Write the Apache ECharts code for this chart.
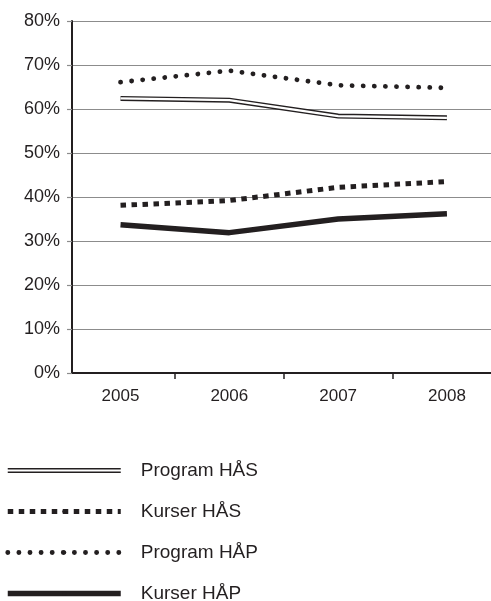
<!DOCTYPE html>
<html>
<head>
<meta charset="utf-8">
<script src="https://cdn.jsdelivr.net/npm/echarts@6/dist/echarts.min.js"></script>
<style>
  html, body { margin: 0; padding: 0; background: #fff; }
  #main { width: 491px; height: 601px; }
</style>
</head>
<body>
<div id="main"></div>
<script>
/* andel per år */
var years = ['2005', '2006', '2007', '2008'];
var programHAS = [62.4, 62.0, 58.4, 58.0];
var kurserHAS = [38.1, 39.2, 42.2, 43.5];
var programHAP = [66.1, 68.7, 65.4, 64.8];
var kurserHAP = [33.7, 31.9, 35.0, 36.2];
var yTicks = [0, 10, 20, 30, 40, 50, 60, 70, 80];

(function(){
	var myChart = echarts.init(document.getElementById('main'));
	var ink = '#231f20';
	var font = '"Liberation Sans", Arial, sans-serif';

	function pts(vals) {
		return years.map(function (y, i) { return [Number(y), vals[i]]; });
	}
	var yearNums = years.map(Number);
	var tickNums = yearNums.slice(0, -1).map(function (y) { return y + 0.5; });

	var option = {
		animation: false,
		backgroundColor: '#fff',
		grid: { left: 72, right: 0, top: 21, bottom: 228 },
		legend: {
			orient: 'vertical',
			left: 5,
			top: 461,
			height: 200,
			padding: 0,
			itemWidth: 113,
			itemHeight: 5,
			itemGap: 22,
			textStyle: { fontFamily: font, fontSize: 19, color: ink, padding: [0, 0, 0, 15] },
			data: [
				{ name: 'Program HÅS', icon: 'path://M0,0H113V1.4H0ZM0,3.6H113V5H0Z' },
				{ name: 'Kurser HÅS', lineStyle: { width: 5 } },
				{ name: 'Program HÅP', lineStyle: { width: 4.8 } },
				{ name: 'Kurser HÅP', lineStyle: { width: 5.5 } }
			]
		},
		xAxis: {
			type: 'value',
			min: 2004.554,
			max: 2008.405,
			axisLine: { lineStyle: { color: ink, width: 2 } },
			axisTick: { show: true, length: 6, customValues: tickNums, lineStyle: { color: ink, width: 1.5 } },
			axisLabel: {
				customValues: yearNums,
				margin: 15,
				fontFamily: font, fontSize: 17, color: ink,
				formatter: function (v) { return String(v); }
			},
			splitLine: { show: false }
		},
		yAxis: {
			type: 'value',
			min: yTicks[0],
			max: yTicks[yTicks.length - 1],
			interval: 10,
			axisLine: { show: true, lineStyle: { color: ink, width: 2 } },
			axisTick: { show: true, length: 5, lineStyle: { color: '#8c8c8c', width: 1.2 } },
			axisLabel: { margin: 12, fontFamily: font, fontSize: 18, color: ink, formatter: '{value}%' },
			splitLine: { lineStyle: { color: '#8c8c8c', width: 1.2 } }
		},
		series: [
			{
				name: 'Program HÅS', type: 'line', symbol: 'none', data: pts(programHAS),
				lineStyle: { color: ink, width: 5, join: 'miter' }, itemStyle: { color: ink }
			},
			{
				// vit mittlinje för dubbellinjen
				name: 'Program HÅS inner', type: 'line', symbol: 'none', data: pts(programHAS),
				lineStyle: { color: '#fff', width: 2.2, join: 'miter' }, itemStyle: { color: '#fff' }
			},
			{
				name: 'Kurser HÅS', type: 'line', symbol: 'none', data: pts(kurserHAS),
				lineStyle: { color: ink, width: 5, type: [5.5, 5.5], cap: 'butt' }, itemStyle: { color: ink }
			},
			{
				name: 'Program HÅP', type: 'line', symbol: 'none', data: pts(programHAP),
				lineStyle: { color: ink, width: 4.8, type: [0.1, 11], cap: 'round' }, itemStyle: { color: ink }
			},
			{
				name: 'Kurser HÅP', type: 'line', symbol: 'none', data: pts(kurserHAP),
				lineStyle: { color: ink, width: 5.5 }, itemStyle: { color: ink }
			}
		]
	};
	myChart.setOption(option);
})();
</script>
</body>
</html>
